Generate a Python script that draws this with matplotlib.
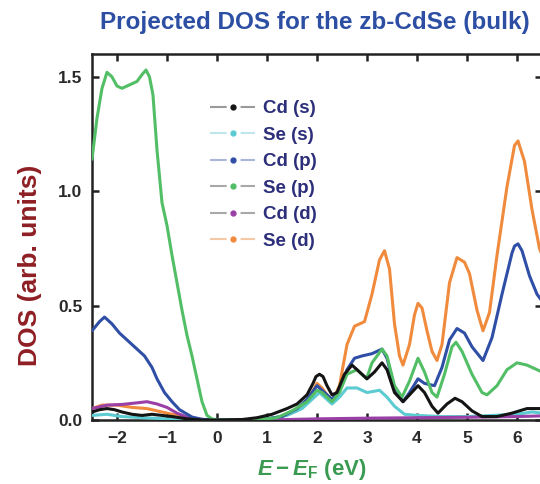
import matplotlib
matplotlib.use("Agg")
import matplotlib.pyplot as plt
from matplotlib.lines import Line2D

plt.rcParams["font.family"] = ["Liberation Sans", "DejaVu Sans"]
plt.rcParams["font.weight"] = "bold"
plt.rcParams["mathtext.fontset"] = "custom"
plt.rcParams["mathtext.it"] = "Liberation Sans:italic:bold"
plt.rcParams["mathtext.rm"] = "Liberation Sans:bold"
plt.rcParams["mathtext.bf"] = "Liberation Sans:bold"
plt.rcParams["lines.scale_dashes"] = False

# Cd (s)
e_cd_s = [-2.5, -2.35, -2.2, -2.05, -1.9, -1.7, -1.5, -1.3, -1.1, -0.9, -0.6, -0.3, 0.0, 0.5, 0.8,
          1.1, 1.4, 1.6, 1.8, 1.92, 1.98, 2.05, 2.12, 2.2, 2.3, 2.4, 2.55, 2.7, 2.85, 3.0, 3.15, 3.3,
          3.4, 3.55, 3.72, 3.85, 4.02, 4.15, 4.3, 4.42, 4.6, 4.76, 4.9, 5.1, 5.3, 5.6, 5.9, 6.2, 6.5]
dos_cd_s = [0.035, 0.045, 0.05, 0.045, 0.035, 0.025, 0.02, 0.025, 0.02, 0.015, 0.005, 0.0, 0.0, 0.002,
            0.01, 0.025, 0.05, 0.07, 0.11, 0.16, 0.19, 0.2, 0.19, 0.15, 0.11, 0.12, 0.2, 0.24, 0.21,
            0.18, 0.21, 0.25, 0.22, 0.12, 0.08, 0.11, 0.15, 0.12, 0.06, 0.03, 0.07, 0.095, 0.08, 0.04,
            0.015, 0.015, 0.03, 0.05, 0.05]

# Se (s)
e_se_s = [-2.5, -2.2, -1.9, -1.5, -1.0, -0.5, 0.5, 1.0, 1.4, 1.7, 1.9, 2.05, 2.15, 2.3, 2.45,
          2.6, 2.8, 3.0, 3.25, 3.4, 3.55, 3.75, 4.0, 4.5, 5.0, 5.5, 6.0, 6.3, 6.5]
dos_se_s = [0.02, 0.025, 0.015, 0.01, 0.005, 0.0, 0.0, 0.005, 0.02, 0.05, 0.09, 0.12, 0.1, 0.07, 0.1,
            0.14, 0.14, 0.12, 0.13, 0.1, 0.06, 0.025, 0.02, 0.015, 0.015, 0.02, 0.025, 0.035, 0.03]

# Cd (p)
e_cd_p = [-2.5, -2.35, -2.25, -2.1, -1.95, -1.7, -1.45, -1.3, -1.2, -1.05, -0.9, -0.75, -0.5, -0.3,
          0.0, 0.5, 1.0, 1.3, 1.6, 1.8, 2.0, 2.1, 2.3, 2.45, 2.6, 2.75, 2.9, 3.1, 3.3, 3.4, 3.55,
          3.72, 3.85, 4.02, 4.15, 4.35, 4.5, 4.65, 4.8, 4.95, 5.1, 5.32, 5.5, 5.7, 5.9, 5.95, 6.02,
          6.1, 6.25, 6.4, 6.5]
dos_cd_p = [0.39, 0.43, 0.45, 0.42, 0.38, 0.33, 0.28, 0.23, 0.18, 0.12, 0.08, 0.045, 0.013, 0.003,
            0.0, 0.0, 0.005, 0.015, 0.05, 0.09, 0.15, 0.13, 0.09, 0.13, 0.22, 0.27, 0.28, 0.29, 0.31,
            0.27, 0.14, 0.08, 0.12, 0.18, 0.16, 0.15, 0.23, 0.35, 0.4, 0.38, 0.32, 0.26, 0.36, 0.55,
            0.73, 0.76, 0.77, 0.74, 0.63, 0.55, 0.52]

# Se (p)
e_se_p = [-2.5, -2.4, -2.3, -2.2, -2.1, -2.0, -1.9, -1.8, -1.7, -1.6, -1.5, -1.42, -1.35, -1.28,
          -1.2, -1.1, -1.0, -0.9, -0.8, -0.7, -0.6, -0.5, -0.4, -0.3, -0.2, -0.1, 0.0, 0.5, 1.0,
          1.2, 1.5, 1.8, 2.0, 2.1, 2.3, 2.45, 2.6, 2.8, 2.99, 3.1, 3.3, 3.4, 3.55, 3.7, 3.85, 4.02,
          4.15, 4.3, 4.4, 4.55, 4.7, 4.78, 4.9, 5.1, 5.3, 5.4, 5.6, 5.8, 6.0, 6.2, 6.4, 6.5]
dos_se_p = [1.14, 1.32, 1.45, 1.52, 1.5, 1.46, 1.45, 1.46, 1.47, 1.48, 1.51, 1.53, 1.5, 1.42,
            1.18, 0.95, 0.85, 0.72, 0.6, 0.48, 0.37, 0.28, 0.18, 0.08, 0.02, 0.005, 0.0, 0.0, 0.005,
            0.01, 0.04, 0.08, 0.13, 0.12, 0.08, 0.12, 0.2, 0.22, 0.18, 0.25, 0.31, 0.28, 0.15, 0.1,
            0.17, 0.27, 0.21, 0.12, 0.1, 0.2, 0.32, 0.34, 0.3, 0.2, 0.12, 0.11, 0.15, 0.22, 0.25,
            0.24, 0.22, 0.21]

# Cd (d)
e_cd_d = [-2.5, -2.2, -1.9, -1.6, -1.4, -1.2, -1.0, -0.8, -0.6, -0.4, -0.2, 1.0, 2.0, 3.0, 4.0,
          5.0, 6.0, 6.5]
dos_cd_d = [0.05, 0.065, 0.068, 0.075, 0.08, 0.07, 0.055, 0.03, 0.012, 0.003, 0.0, 0.0, 0.005, 0.008,
            0.01, 0.012, 0.015, 0.018]

# Se (d)
e_se_d = [-2.5, -2.3, -2.0, -1.7, -1.4, -1.1, -0.8, -0.5, -0.2, 0.5, 1.0, 1.3, 1.6, 1.8, 2.0, 2.1,
          2.3, 2.45, 2.6, 2.75, 2.95, 3.1, 3.25, 3.35, 3.45, 3.55, 3.65, 3.72, 3.85, 3.95, 4.02, 4.1,
          4.2, 4.3, 4.4, 4.5, 4.65, 4.8, 4.95, 5.05, 5.2, 5.32, 5.45, 5.6, 5.8, 5.95, 6.02, 6.15,
          6.3, 6.45, 6.5]
dos_se_d = [0.05, 0.065, 0.065, 0.055, 0.05, 0.035, 0.02, 0.008, 0.0, 0.0, 0.005, 0.015, 0.04, 0.08,
            0.16, 0.14, 0.08, 0.15, 0.33, 0.41, 0.43, 0.55, 0.7, 0.74, 0.66, 0.42, 0.28, 0.24, 0.33,
            0.46, 0.51, 0.49, 0.39, 0.3, 0.26, 0.33, 0.6, 0.71, 0.69, 0.64, 0.48, 0.39, 0.47, 0.72,
            1.02, 1.2, 1.22, 1.13, 0.92, 0.75, 0.72]

series = [
    ("Cd (s)", e_cd_s, dos_cd_s, "#141414", "#9a9a9a"),
    ("Se (s)", e_se_s, dos_se_s, "#5ccbd2", "#bfe6ea"),
    ("Cd (p)", e_cd_p, dos_cd_p, "#2f4fa6", "#a9b6dc"),
    ("Se (p)", e_se_p, dos_se_p, "#52be66", "#a8a8a8"),
    ("Cd (d)", e_cd_d, dos_cd_d, "#9a3fa6", "#a8a8a8"),
    ("Se (d)", e_se_d, dos_se_d, "#f08a3c", "#f6c9a6"),
]
draw_order = ["Se (d)", "Se (s)", "Cd (d)", "Cd (p)", "Se (p)", "Cd (s)"]

fig = plt.figure(figsize=(5.40, 4.84), dpi=100)
ax = fig.add_axes([92 / 540, 64 / 484, 450 / 540, 366 / 484])

by_name = {s[0]: s for s in series}
for name in draw_order:
    _, e, d, col, _ = by_name[name]
    ax.plot(e, d, color=col, lw=2.2, solid_capstyle="round", solid_joinstyle="round", zorder=3)

ax.set_xlim(-2.5, 6.5)
ax.set_ylim(0, 1.6)
ax.set_xticks(range(-2, 7))
ax.set_xticklabels(["\u22122", "\u22121", "0", "1", "2", "3", "4", "5", "6"])
ax.set_yticks([0, 0.5, 1.0, 1.5])
ax.set_yticklabels(["0.0", "0.5", "1.0", "1.5"])
ax.tick_params(direction="in", length=5, width=1.8, top=True, right=True,
               labelsize=12.5, labelcolor="#2a2a2a", color="#222222")
ax.tick_params(axis="x", pad=8)
ax.tick_params(axis="y", pad=7)
for sp in ax.spines.values():
    sp.set_linewidth(1.8)
    sp.set_color("#222222")

# legend: short line, gap, dot, gap, short line
handles = [Line2D([], [], color=lc, lw=1.5, dashes=(12, 10), marker="o", markersize=3.5,
                  markerfacecolor=c, markeredgecolor=c)
           for _, _, _, c, lc in series]
labels = [s[0] for s in series]
ax.legend(handles, labels, loc="upper left", bbox_to_anchor=(210 / 540, 384 / 484),
          bbox_transform=fig.transFigure, frameon=False, borderpad=0, borderaxespad=0,
          labelcolor="#2d2f7a", handlelength=2.4, handletextpad=0.45,
          labelspacing=0.5, prop={"weight": "bold", "size": 13.5})

fig.text(315 / 540, 1 - 23 / 484, "Projected DOS for the zb-CdSe (bulk)", ha="center", va="center",
         fontsize=17.5, fontweight="bold", color="#2c4ea3")
fig.text(30 / 540, 1 - 265 / 484, "DOS (arb. units)", ha="center", va="center", rotation=90,
         fontsize=19, fontweight="bold", color="#8e1f24")
fig.text(312 / 540, 1 - 469 / 484, r"$E-E_\mathrm{F}$ (eV)", ha="center", va="center",
         fontsize=16, fontweight="bold", color="#3a9a52")

fig.savefig("out.png", dpi=100)
